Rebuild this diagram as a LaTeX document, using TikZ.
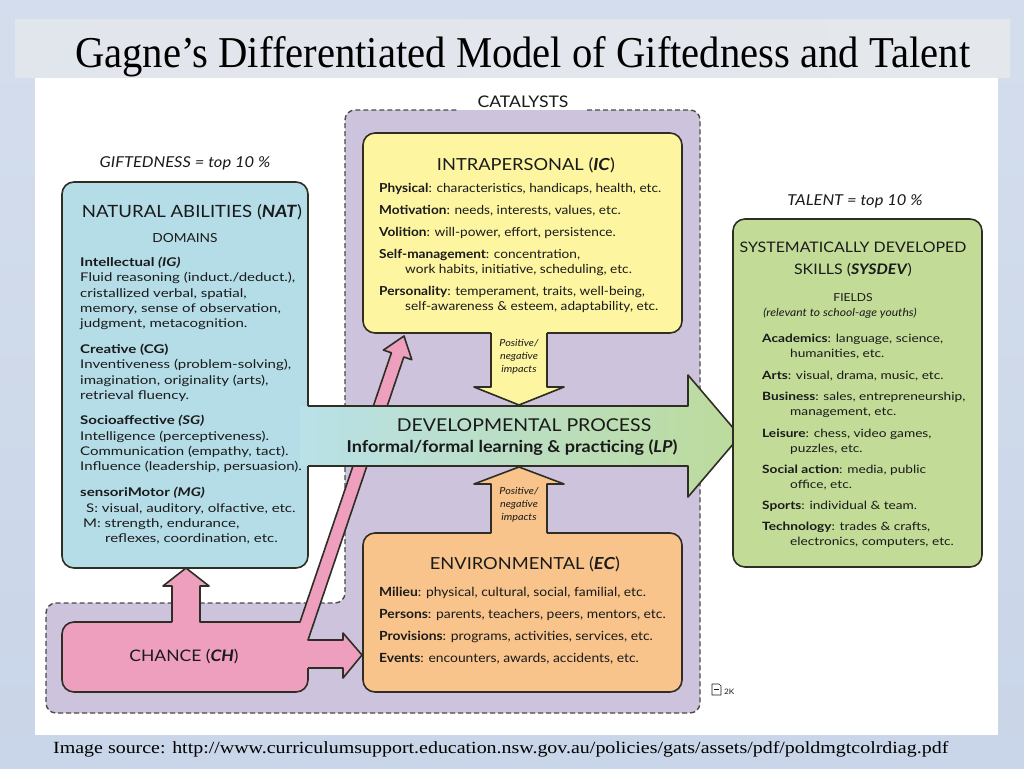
\documentclass[tikz,border=0pt]{standalone}
\usepackage{graphicx}
\usepackage{fontspec}
\setmainfont{Lato}[FakeStretch=1.1]
\newfontfamily\wide{Lato}[FakeStretch=1.25]
\newfontfamily\widesd{Lato}[FakeStretch=1.2]
\newfontfamily\serif{Liberation Serif}
\definecolor{bgc}{HTML}{C9D5E8}
\definecolor{bandc}{HTML}{E4E7EC}
\definecolor{purp}{HTML}{CEC3DC}
\definecolor{natb}{HTML}{B5DDE8}
\definecolor{icy}{HTML}{FDF5A0}
\definecolor{eco}{HTML}{F8C48B}
\definecolor{sysg}{HTML}{C2DC98}
\definecolor{chp}{HTML}{EE9FBE}
\definecolor{lpg}{HTML}{BCDB9C}
\definecolor{lpb}{HTML}{B9E1E8}
\definecolor{edgec}{HTML}{2E2E24}
\definecolor{txtc}{HTML}{1A1A1A}
\definecolor{dashc}{HTML}{4A4A4A}
\newcommand\tl[4]{\node[txt] (#1) at (#2,#3) {#4};}
\newcommand\fs[1]{\fontsize{#1}{#1}\selectfont}
\begin{document}
\begin{tikzpicture}[x=1pt,y=-1pt,line join=round,
  box/.style={draw=edgec,line width=1.6pt},
  txt/.style={inner sep=0pt,text=txtc,font=\fs{12.2},anchor=base west},
  hd/.style={inner sep=0pt,text=txtc,font=\fs{16.6},anchor=base},
  sub/.style={inner sep=0pt,text=txtc,font=\fs{12.5},anchor=base},
  imp/.style={inner sep=0pt,text=txtc,font=\fs{9.8}\itshape,anchor=base},
  lvl/.style={inner sep=0pt,text=txtc,font=\fs{15}\itshape,anchor=base}]
\useasboundingbox (0,0) rectangle (1024,768);
% background
\shade[top color=bgc!80!white,bottom color=bgc] (0,0) rectangle (1024,768);
\shade[left color=bandc!90!bgc,right color=bandc] (15,20) rectangle (1010,77);
\fill[white] (35,78) rectangle (998,735);
\node[inner sep=0pt,anchor=base west] (title) at (75,67) {\resizebox{895pt}{31pt}{\serif Gagne’s Differentiated Model of Giftedness and Talent}};
\node[inner sep=0pt,anchor=base west] (src) at (53,753) {\resizebox{895pt}{12pt}{\serif Image source: http://www.curriculumsupport.education.nsw.gov.au/policies/gats/assets/pdf/poldmgtcolrdiag.pdf}};
% catalysts region
\fill[purp,rounded corners=10pt] (46,603) -- (345,603) -- (345,110) -- (700,110) -- (700,713) -- (46,713) -- cycle;
\draw[dashc,line width=1.4pt,dash pattern=on 5pt off 3pt,rounded corners=10pt] (587,110) -- (700,110) -- (700,713) -- (46,713) -- (46,603) -- (345,603) -- (345,110) -- (457,110);
\node[sub,font=\fs{16}] (cat) at (523,107) {CATALYSTS};
% chance
\fill[chp,rounded corners=12pt] (62,622) rectangle (308,692);
\fill[chp] (172,630) -- (172,586) -- (163,586) -- (186,568) -- (209,586) -- (200,586) -- (200,630) -- cycle;
\fill[chp] (300,630) -- (300,622) -- (391.4,352.8) -- (383.4,350.1) -- (404,336) -- (411.8,359.7) -- (403.8,357.0) -- (308,640) -- (300,640) -- cycle;
\fill[chp] (300,640) -- (343,640) -- (343,633) -- (362,655) -- (343,678) -- (343,668) -- (300,668) -- cycle;
\draw[box,rounded corners=12pt] (308,668) -- (308,692) -- (62,692) -- (62,622) -- (172,622);
\draw[box] (172,622) -- (172,586) -- (163,586) -- (186,568) -- (209,586) -- (200,586) -- (200,622) -- (300,622) -- (391.4,352.8) -- (383.4,350.1) -- (404,336) -- (411.8,359.7) -- (403.8,357.0) -- (308,640) -- (343,640) -- (343,633) -- (362,655) -- (343,678) -- (343,668) -- (308,668);
\node[hd,font=\fs{15.9}] (ch) at (184,661) {CHANCE (\textbf{\textit{CH}})};
% intrapersonal
\fill[icy,rounded corners=12pt] (363,133) rectangle (682,333);
\fill[icy] (491,325) -- (491,387) -- (474,387) -- (519,405) -- (564,387) -- (547,387) -- (547,325) -- cycle;
\draw[box,rounded corners=12pt] (547,333) -- (682,333) -- (682,133) -- (363,133) -- (363,333) -- (491,333);
\draw[box] (491,333) -- (491,387) -- (474,387) -- (519,405) -- (564,387) -- (547,387) -- (547,333);
% environmental
\fill[eco,rounded corners=12pt] (363,533) rectangle (682,692);
\fill[eco] (491,541) -- (491,484) -- (474,484) -- (519,467) -- (564,484) -- (547,484) -- (547,541) -- cycle;
\draw[box,rounded corners=12pt] (547,533) -- (682,533) -- (682,692) -- (363,692) -- (363,533) -- (491,533);
\draw[box] (491,533) -- (491,484) -- (474,484) -- (519,467) -- (564,484) -- (547,484) -- (547,533);
% natural abilities + developmental process
\fill[natb,rounded corners=12pt] (62,182) rectangle (308,568);
\shade[left color=lpb,right color=lpg] (300,406) -- (688,406) -- (688,375) -- (740,436) -- (688,497) -- (688,466) -- (300,466) -- cycle;
\draw[box,rounded corners=12pt] (308,466) -- (308,568) -- (62,568) -- (62,182) -- (308,182) -- (308,406);
\draw[box] (308,406) -- (688,406) -- (688,375) -- (740,436) -- (688,497) -- (688,466) -- (308,466);
% sysdev
\draw[box,fill=sysg,rounded corners=12pt] (733,219) rectangle (982,567);
% level labels
\node[lvl] (gift) at (185,167) {GIFTEDNESS = top 10 \%};
\node[lvl] (tal) at (855,205) {TALENT = top 10 \%};
% NAT text
\node[hd,font=\fs{16.9}] (nath) at (192,217) {NATURAL ABILITIES (\textbf{\textit{NAT}})};
\node[sub] (dom) at (185,242) {DOMAINS};
\begin{scope}[txt/.append style={font=\wide\fs{12.0}}]
\tl{na1}{80}{266}{\textbf{Intellectual \textit{(IG)}}}
\tl{na2}{80}{281}{Fluid reasoning (induct./deduct.),}
\tl{na3}{80}{297}{cristallized verbal, spatial,}
\tl{na4}{80}{312}{memory, sense of observation,}
\tl{na5}{80}{327}{judgment, metacognition.}
\tl{na6}{80}{353}{\textbf{Creative (CG)}}
\tl{na7}{80}{368}{Inventiveness (problem-solving),}
\tl{na8}{80}{384}{imagination, originality (arts),}
\tl{na9}{80}{399}{retrieval fluency.}
\tl{na10}{80}{424}{\textbf{Socioaffective \textit{(SG)}}}
\tl{na11}{80}{440}{Intelligence (perceptiveness).}
\tl{na12}{80}{455}{Communication (empathy, tact).}
\tl{na13}{80}{470}{Influence (leadership, persuasion).}
\tl{na14}{80}{496}{\textbf{sensoriMotor \textit{(MG)}}}
\tl{na15}{86}{512}{S: visual, auditory, olfactive, etc.}
\tl{na16}{83}{527}{M: strength, endurance,}
\tl{na17}{105}{542}{reflexes, coordination, etc.}
\end{scope}
% IC text
\node[hd] (ich) at (526,170) {INTRAPERSONAL (\textbf{\textit{IC}})};
\begin{scope}[txt/.append style={font=\fs{12.4}}]
\tl{ic1}{379}{192}{\textbf{Physical}: characteristics, handicaps, health, etc.}
\tl{ic2}{379}{214}{\textbf{Motivation}: needs, interests, values, etc.}
\tl{ic3}{379}{236}{\textbf{Volition}: will-power, effort, persistence.}
\tl{ic4}{379}{258}{\textbf{Self-management}: concentration,}
\tl{ic5}{405}{273}{work habits, initiative, scheduling, etc.}
\tl{ic6}{379}{295}{\textbf{Personality}: temperament, traits, well-being,}
\tl{ic7}{405}{310}{self-awareness \& esteem, adaptability, etc.}
\end{scope}
\node[imp] (ip1) at (519,346) {Positive/};
\node[imp] (ip2) at (519,359) {negative};
\node[imp] (ip3) at (519,372) {impacts};
% LP text
\node[hd,font=\fs{17.7}] (lp1) at (524,431) {DEVELOPMENTAL PROCESS};
\node[hd,font=\fs{16.4}] (lp2) at (512,452) {\textbf{Informal/formal learning \& practicing (\textit{LP})}};
% EC text
\node[imp] (ep1) at (519,494) {Positive/};
\node[imp] (ep2) at (519,507) {negative};
\node[imp] (ep3) at (519,520) {impacts};
\node[hd,font=\fs{16.6}] (ech) at (525,569) {ENVIRONMENTAL (\textbf{\textit{EC}})};
\begin{scope}[txt/.append style={font=\fs{12.6}}]
\tl{ec1}{379}{596}{\textbf{Milieu}: physical, cultural, social, familial, etc.}
\tl{ec2}{379}{618}{\textbf{Persons}: parents, teachers, peers, mentors, etc.}
\tl{ec3}{379}{640}{\textbf{Provisions}: programs, activities, services, etc.}
\tl{ec4}{379}{662}{\textbf{Events}: encounters, awards, accidents, etc.}
\end{scope}
% SYSDEV text
\node[hd,font=\fs{14.5}] (sh1) at (853,252) {SYSTEMATICALLY DEVELOPED};
\node[hd,font=\fs{14.5}] (sh2) at (853,274) {SKILLS (\textbf{\textit{SYSDEV}})};
\node[sub,font=\fs{11}] (fld) at (853,301) {FIELDS};
\node[sub,font=\fs{11}\itshape] (rel) at (840,316) {(relevant to school-age youths)};
\begin{scope}[txt/.append style={font=\widesd\fs{11.4}}]
\tl{sd1}{762}{342}{\textbf{Academics}: language, science,}
\tl{sd2}{790}{357}{humanities, etc.}
\tl{sd3}{762}{379}{\textbf{Arts}: visual, drama, music, etc.}
\tl{sd4}{762}{400}{\textbf{Business}: sales, entrepreneurship,}
\tl{sd5}{790}{415}{management, etc.}
\tl{sd6}{762}{437}{\textbf{Leisure}: chess, video games,}
\tl{sd7}{790}{452}{puzzles, etc.}
\tl{sd8}{762}{473}{\textbf{Social action}: media, public}
\tl{sd9}{790}{488}{office, etc.}
\tl{sd10}{762}{509}{\textbf{Sports}: individual \& team.}
\tl{sd11}{762}{530}{\textbf{Technology}: trades \& crafts,}
\tl{sd12}{790}{545}{electronics, computers, etc.}
\end{scope}
% small 2K mark
\draw[line width=0.7pt,txtc] (712,684) -- (712,695) -- (721,695) -- (721,686) -- (719,684) -- cycle;
\draw[line width=0.7pt,txtc] (714,689) -- (719,689);
\node[inner sep=0pt,anchor=base west,text=txtc,font=\fs{7.5}] (tk) at (724,694) {2K};
\end{tikzpicture}
\end{document}
